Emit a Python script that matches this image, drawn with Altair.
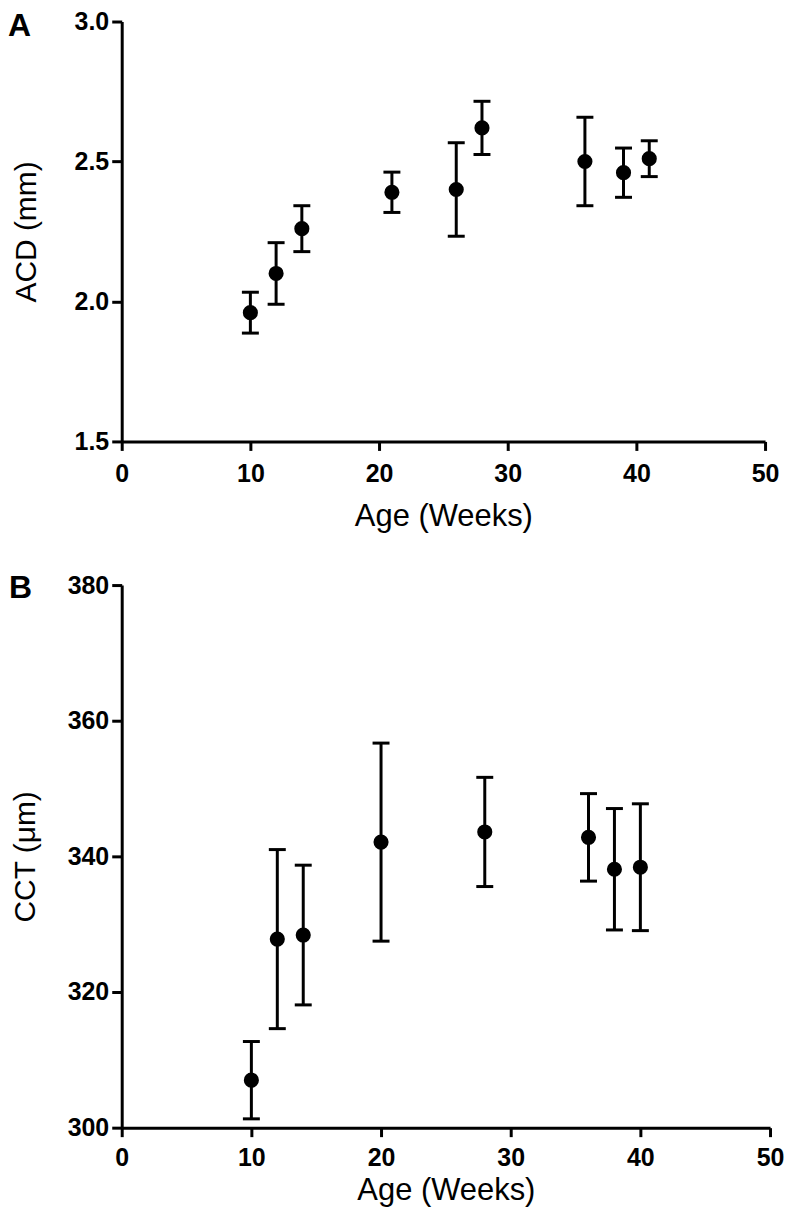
import altair as alt
import pandas as pd

# Panel A: anterior chamber depth
acd_age = [10, 12, 14, 21, 26, 28, 36, 39, 41]
acd_mean = [1.96, 2.10, 2.26, 2.39, 2.40, 2.62, 2.50, 2.46, 2.51]
acd_err = [0.073, 0.11, 0.082, 0.072, 0.167, 0.095, 0.158, 0.088, 0.064]

# Panel B: central corneal thickness
cct_age = [10, 12, 14, 20, 28, 36, 38, 40]
cct_mean = [307.0, 327.8, 328.4, 342.1, 343.6, 342.8, 338.1, 338.4]
cct_err = [5.7, 13.2, 10.3, 14.6, 8.05, 6.45, 8.95, 9.35]

x_ticks = [0, 10, 20, 30, 40, 50]
acd_ticks = [1.5, 2.0, 2.5, 3.0]
cct_ticks = [300, 320, 340, 360, 380]

FONT = "Liberation Sans"


def make_df(age, mean, err):
    return pd.DataFrame({
        "age": age,
        "mean": mean,
        "lo": [m - e for m, e in zip(mean, err)],
        "hi": [m + e for m, e in zip(mean, err)],
    })


def panel(df, ydom, yticks, yfmt, ytitle, letter, width, height, label_fs,
          letter_x, letter_y, x_lpad, x_tpad, y_tpad):
    x = alt.X("age:Q",
              scale=alt.Scale(domain=[0, 50], nice=False, zero=False),
              axis=alt.Axis(values=x_ticks, title="Age (Weeks)", format="d",
                            tickSize=9, labelPadding=x_lpad,
                            labelFontSize=label_fs, titleFontSize=31,
                            titlePadding=x_tpad, labelFlush=False))
    yscale = alt.Scale(domain=ydom, nice=False, zero=False)
    yaxis = alt.Axis(values=yticks, title=ytitle, format=yfmt, tickSize=10,
                     labelPadding=3, labelFontSize=label_fs, titleFontSize=30,
                     titlePadding=y_tpad, labelFlush=False)
    base = alt.Chart(df)
    rules = base.mark_rule(color="black", strokeWidth=3).encode(
        x=x, y=alt.Y("lo:Q", scale=yscale, axis=yaxis), y2="hi:Q")
    cap_lo = base.mark_tick(orient="horizontal", color="black", thickness=3,
                            size=17, opacity=1).encode(
        x=x, y=alt.Y("lo:Q", scale=yscale, axis=yaxis))
    cap_hi = base.mark_tick(orient="horizontal", color="black", thickness=3,
                            size=17, opacity=1).encode(
        x=x, y=alt.Y("hi:Q", scale=yscale, axis=yaxis))
    pts = base.mark_circle(size=230, color="black", opacity=1).encode(
        x=x, y=alt.Y("mean:Q", scale=yscale, axis=yaxis))
    lab = alt.Chart(pd.DataFrame({"t": [letter]})).mark_text(
        font=FONT, fontSize=32, fontWeight="bold", color="black",
        align="left", baseline="top").encode(
        x=alt.value(letter_x), y=alt.value(letter_y), text="t:N")
    return alt.layer(rules, cap_lo, cap_hi, pts, lab).properties(
        width=width, height=height)


top = panel(make_df(acd_age, acd_mean, acd_err), [1.5, 3.0], acd_ticks, ".1f",
            "ACD (mm)", "A", 645, 421, 25, -114, -10, 11, 15, 33)
bottom = panel(make_df(cct_age, cct_mean, cct_err), [300, 380], cct_ticks, "d",
               "CCT (\u03bcm)", "B", 650, 544, 25, -113, -12, 9, 5, 27)

chart = alt.vconcat(top, bottom, spacing=41).properties(
    padding={"left": 0, "top": 0, "right": 0, "bottom": 4},
    background="white",
).configure_view(stroke=None).configure_axis(
    domainColor="black", domainWidth=3, tickColor="black", tickWidth=3,
    labelColor="black", titleColor="black", labelFont=FONT, titleFont=FONT,
    labelFontWeight="bold", titleFontWeight="normal", grid=False,
)

chart.save("out.html", embed_options={"renderer": "svg", "actions": False})
